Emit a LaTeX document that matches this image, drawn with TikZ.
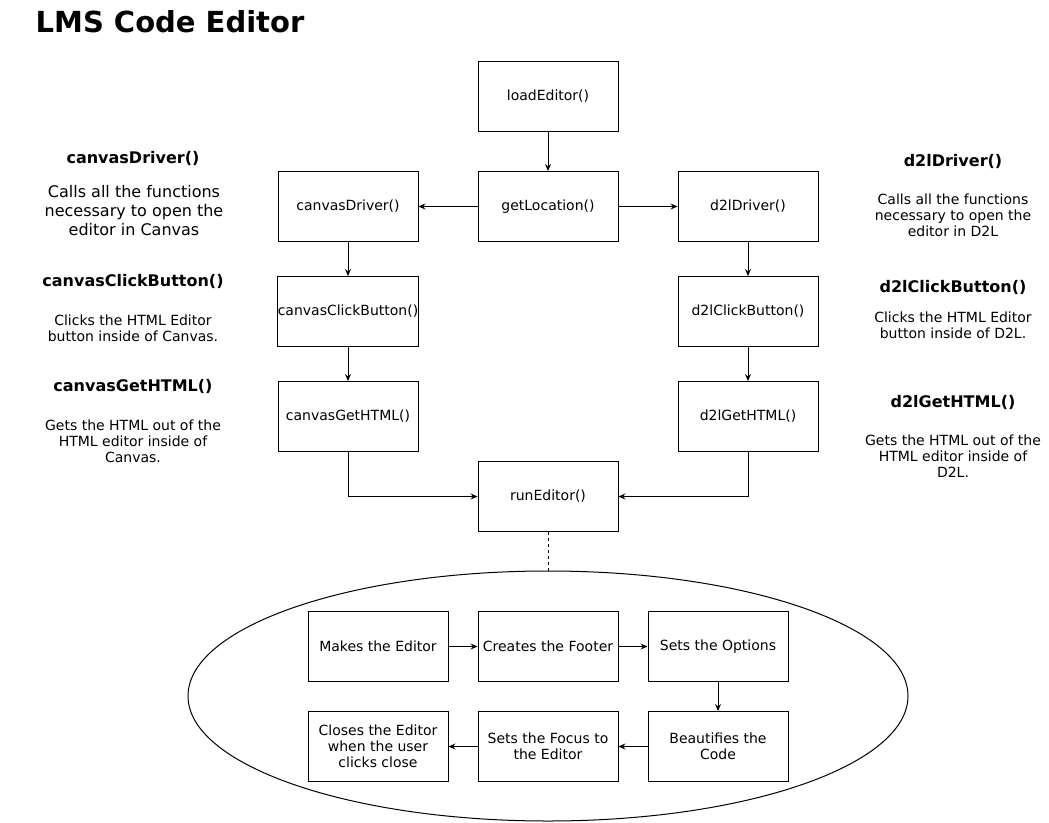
\documentclass[tikz,border=0pt]{standalone}
\usepackage{fontspec}
\setmainfont{DejaVu Sans}
\usetikzlibrary{arrows.meta,shapes.geometric}
\begin{document}
\begin{tikzpicture}[x=1pt,y=-1pt,
  box/.style={draw, line width=1pt, minimum width=140pt, minimum height=70pt, inner sep=0pt, align=center, font=\fontsize{14}{16}\selectfont},
  arr/.style={-{Stealth[length=7pt,width=6pt,inset=2.5pt]}, line width=1pt},
  head/.style={inner sep=0pt, font=\fontsize{16}{19}\selectfont\bfseries},
  descl/.style={inner sep=0pt, align=center, font=\fontsize{16}{19}\selectfont},
  desc/.style={inner sep=0pt, align=center, font=\fontsize{14}{16}\selectfont},
  titlestyle/.style={inner sep=0pt, font=\fontsize{29}{34}\selectfont\bfseries}]
\useasboundingbox (0,0) rectangle (1049,822);

\node[titlestyle] (title) at (170,22) {LMS Code Editor};

% main flow
\node[box] (load)   at (548,96.5)  {loadEditor()};
\node[box] (getloc) at (548,206.5) {getLocation()};
\node[box] (cdrv)   at (348,206.5) {canvasDriver()};
\node[box] (ddrv)   at (748,206.5) {d2lDriver()};
\node[box] (cclick) at (348,311.5) {canvasClickButton()};
\node[box] (dclick) at (748,311.5) {d2lClickButton()};
\node[box] (cget)   at (348,416.5) {canvasGetHTML()};
\node[box] (dget)   at (748,416.5) {d2lGetHTML()};
\node[box] (run)    at (548,496.5) {runEditor()};

\draw[arr] (load) -- (getloc);
\draw[arr] (getloc) -- (cdrv);
\draw[arr] (getloc) -- (ddrv);
\draw[arr] (cdrv) -- (cclick);
\draw[arr] (cclick) -- (cget);
\draw[arr] (ddrv) -- (dclick);
\draw[arr] (dclick) -- (dget);
\draw[arr] (cget.south) |- (run.west);
\draw[arr] (dget.south) |- (run.east);

% ellipse group
\node[draw, ellipse, line width=1pt, minimum width=720pt, minimum height=250pt, inner sep=0pt] (loop) at (548,696) {};
\draw[line width=1pt, dash pattern=on 3pt off 3pt] (run.south) -- (loop.north);

\node[box] (mk) at (378,646.5) {Makes the Editor};
\node[box] (cf) at (548,646.5) {Creates the Footer};
\node[box] (so) at (718,646.5) {Sets the Options};
\node[box] (bc) at (718,746.5) {Beautifies the\\Code};
\node[box] (sf) at (548,746.5) {Sets the Focus to\\the Editor};
\node[box] (cl) at (378,746.5) {Closes the Editor\\when the user\\clicks close};

\draw[arr] (mk) -- (cf);
\draw[arr] (cf) -- (so);
\draw[arr] (so) -- (bc);
\draw[arr] (bc) -- (sf);
\draw[arr] (sf) -- (cl);

% left descriptions
\node[head] (hcd) at (133,158) {canvasDriver()};
\node[descl] (tcd) at (134,211) {Calls all the functions\\necessary to open the\\editor in Canvas};
\node[head] (hcc) at (133,281) {canvasClickButton()};
\node[desc] (tcc) at (133,328) {Clicks the HTML Editor\\button inside of Canvas.};
\node[head] (hcg) at (133,386) {canvasGetHTML()};
\node[desc] (tcg) at (133,441) {Gets the HTML out of the\\HTML editor inside of\\Canvas.};

% right descriptions
\node[head] (hdd) at (953,161) {d2lDriver()};
\node[desc] (tdd) at (953,215.5) {Calls all the functions\\necessary to open the\\editor in D2L};
\node[head] (hdc) at (953,287) {d2lClickButton()};
\node[desc] (tdc) at (953,325.5) {Clicks the HTML Editor\\button inside of D2L.};
\node[head] (hdg) at (953,402) {d2lGetHTML()};
\node[desc] (tdg) at (953,456) {Gets the HTML out of the\\HTML editor inside of\\D2L.};
\end{tikzpicture}
\end{document}
